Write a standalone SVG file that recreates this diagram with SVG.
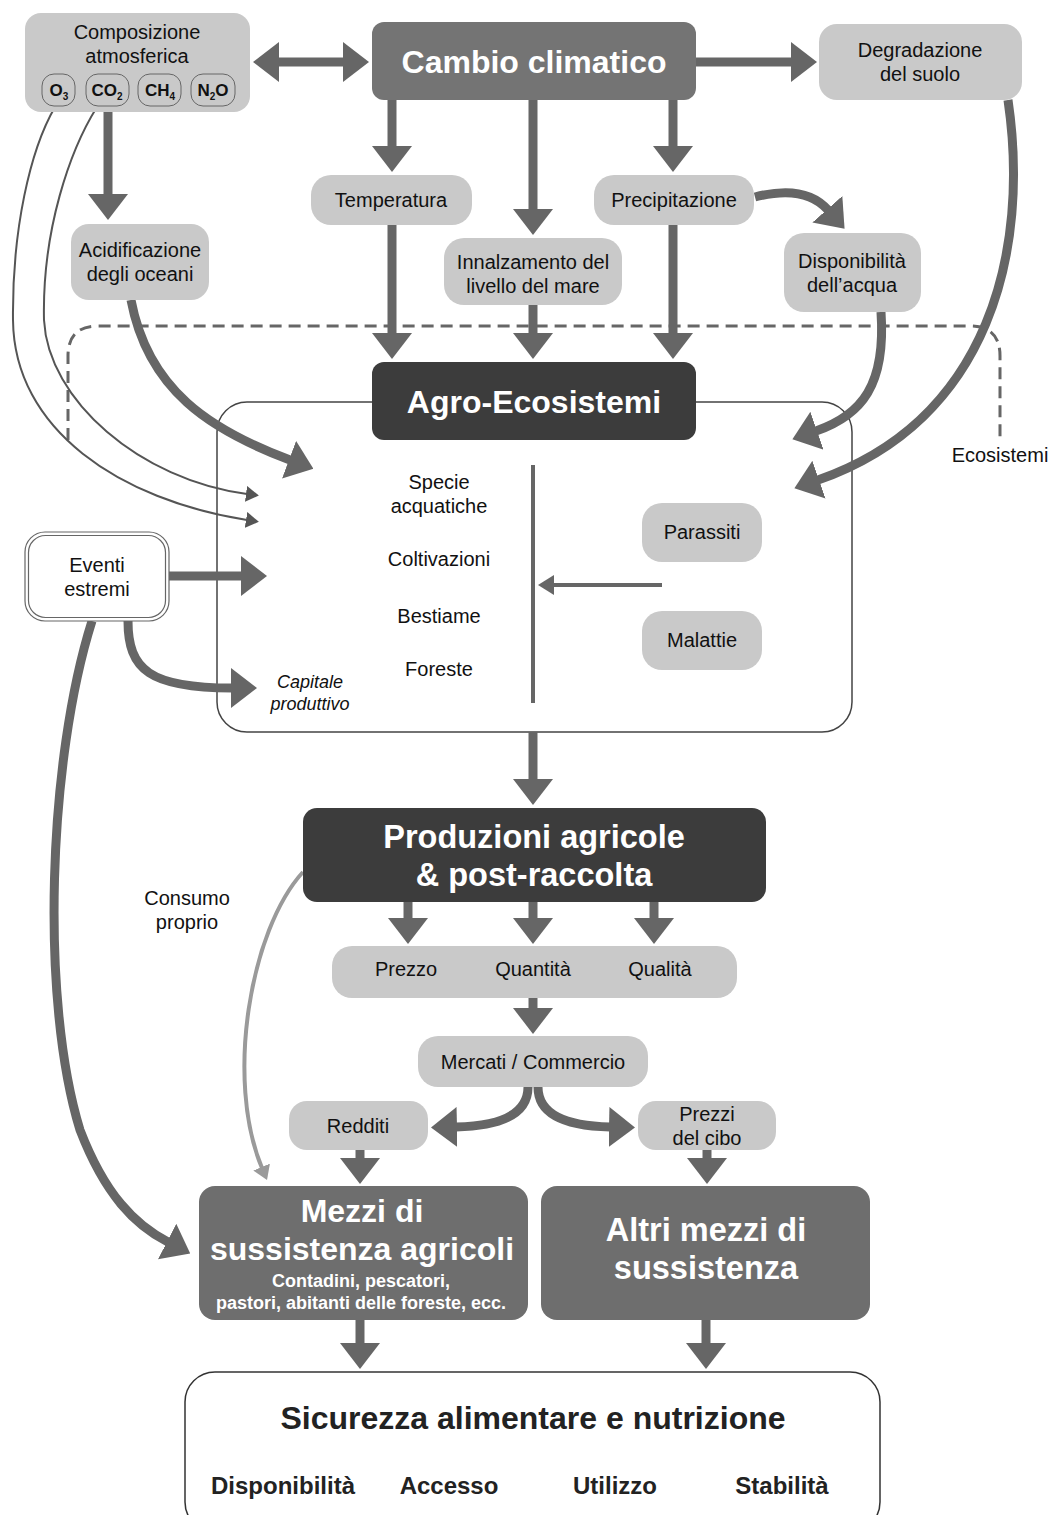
<svg xmlns="http://www.w3.org/2000/svg" width="1051" height="1515" viewBox="0 0 1051 1515">
<style>
text{font-family:"Liberation Sans",Arial,sans-serif;fill:#111;text-anchor:middle}
.lbl{font-size:20px}
.wt{fill:#fff;font-weight:bold}
.big{font-size:32px}
.light{fill:#c9c9c9}
.conn{fill:none;stroke:#666;stroke-width:9}
.thin{fill:none;stroke:#555;stroke-width:2}
.chem{font-size:17px;font-weight:bold}
.sub{font-size:10px}
.bot{font-weight:bold;fill:#222}
</style>
<defs>
<marker id="ah" markerUnits="userSpaceOnUse" markerWidth="26" markerHeight="40" refX="1" refY="20" orient="auto"><path d="M0,0 L26,20 L0,40 z" fill="#666"/></marker>
<marker id="ah2" markerUnits="userSpaceOnUse" markerWidth="26" markerHeight="40" refX="1" refY="20" orient="auto-start-reverse"><path d="M0,0 L26,20 L0,40 z" fill="#666"/></marker>
<marker id="at" markerUnits="userSpaceOnUse" markerWidth="13" markerHeight="16" refX="1" refY="8" orient="auto"><path d="M0,0 L13,8 L0,16 z" fill="#555"/></marker>
<marker id="am" markerUnits="userSpaceOnUse" markerWidth="16" markerHeight="20" refX="1" refY="10" orient="auto"><path d="M0,0 L16,10 L0,20 z" fill="#666"/></marker>
<marker id="al" markerUnits="userSpaceOnUse" markerWidth="14" markerHeight="18" refX="1" refY="9" orient="auto"><path d="M0,0 L14,9 L0,18 z" fill="#9a9a9a"/></marker>
</defs>
<rect width="1051" height="1515" fill="#fff"/>

<!-- Ecosistemi dashed boundary -->
<g id="ecosistemi">
<path d="M68,440 L68,356 Q68,326 98,326 L970,326 Q1000,326 1000,356 L1000,440" fill="none" stroke="#666" stroke-width="3" stroke-dasharray="12 7"/>
<text class="lbl" x="1000" y="462">Ecosistemi</text>
</g>

<!-- container -->
<g id="agro-container">
<rect x="217" y="402" width="635" height="330" rx="30" fill="#fff" stroke="#444" stroke-width="1.5"/>
</g>

<g id="connectors">
<path class="conn" d="M278,62 L344,62" marker-start="url(#ah2)" marker-end="url(#ah2)"/>
<path class="conn" d="M696,62 L792,62" marker-end="url(#ah)"/>
<path class="conn" d="M392,100 L392,147" marker-end="url(#ah)"/>
<path class="conn" d="M533,100 L533,210" marker-end="url(#ah)"/>
<path class="conn" d="M673,100 L673,147" marker-end="url(#ah)"/>
<path class="conn" d="M108,105 L108,195" marker-end="url(#ah)"/>
<path class="conn" d="M392,225 L392,334" marker-end="url(#ah)"/>
<path class="conn" d="M533,305 L533,334" marker-end="url(#ah)"/>
<path class="conn" d="M673,225 L673,334" marker-end="url(#ah)"/>
<path class="conn" d="M755,197 Q805,184 828,210" marker-end="url(#ah)"/>
<path class="conn" d="M881,312 C886,385 862,415 816,431" marker-end="url(#ah)"/>
<path class="conn" d="M1008,100 C1030,250 990,420 818,480" marker-end="url(#ah)"/>
<path class="conn" d="M131,300 C148,390 210,430 290,460" marker-end="url(#ah)"/>
<path class="thin" d="M55,107 C30,150 12,230 13,320 C14,430 120,500 247,520" marker-end="url(#at)"/>
<path class="thin" d="M97,107 C70,150 42,230 44,320 C48,400 140,480 247,494" marker-end="url(#at)"/>
<path class="conn" d="M169,576 L242,576" marker-end="url(#ah)"/>
<path class="conn" d="M128,621 C128,670 150,688 232,688" marker-end="url(#ah)"/>
<path class="conn" d="M92,621 C48,760 40,1000 80,1130 C105,1195 135,1225 168,1242" marker-end="url(#ah)"/>
<path d="M662,585 L553,585" fill="none" stroke="#666" stroke-width="4" marker-end="url(#am)"/>
<path d="M533,465 L533,703" fill="none" stroke="#666" stroke-width="4"/>
<path class="conn" d="M533,732 L533,780" marker-end="url(#ah)"/>
<path class="conn" d="M408,902 L408,919" marker-end="url(#ah)"/>
<path class="conn" d="M533,902 L533,919" marker-end="url(#ah)"/>
<path class="conn" d="M654,902 L654,919" marker-end="url(#ah)"/>
<path class="conn" d="M533,998 L533,1009" marker-end="url(#ah)"/>
<path class="conn" d="M528,1087 C528,1115 500,1126 456,1127" marker-end="url(#ah)"/>
<path class="conn" d="M538,1087 C538,1115 566,1126 610,1127" marker-end="url(#ah)"/>
<path d="M303,872 C250,930 225,1080 262,1168" fill="none" stroke="#9a9a9a" stroke-width="4" marker-end="url(#al)"/>
<path class="conn" d="M360,1150 L360,1159" marker-end="url(#ah)"/>
<path class="conn" d="M707,1150 L707,1159" marker-end="url(#ah)"/>
<path class="conn" d="M360,1320 L360,1344" marker-end="url(#ah)"/>
<path class="conn" d="M706,1320 L706,1344" marker-end="url(#ah)"/>
</g>

<g id="composizione">
<rect class="light" x="25" y="13" width="225" height="99" rx="16"/>
<text class="lbl" x="137" y="39">Composizione</text>
<text class="lbl" x="137" y="63">atmosferica</text>
<rect x="42" y="74" width="33" height="32" rx="12" fill="none" stroke="#666" stroke-width="1"/>
<rect x="86" y="74" width="43" height="32" rx="12" fill="none" stroke="#666" stroke-width="1"/>
<rect x="138" y="74" width="43" height="32" rx="12" fill="none" stroke="#666" stroke-width="1"/>
<rect x="191" y="74" width="44" height="32" rx="12" fill="none" stroke="#666" stroke-width="1"/>
<text class="chem" x="59" y="96">O<tspan class="sub" dy="4">3</tspan></text>
<text class="chem" x="107" y="96">CO<tspan class="sub" dy="4">2</tspan></text>
<text class="chem" x="160" y="96">CH<tspan class="sub" dy="4">4</tspan></text>
<text class="chem" x="213" y="96">N<tspan class="sub" dy="4">2</tspan><tspan dy="-4">O</tspan></text>
</g>

<g id="cambio">
<rect x="372" y="22" width="324" height="78" rx="12" fill="#747474"/>
<text class="wt big" x="534" y="73">Cambio climatico</text>
</g>

<g id="degradazione">
<rect class="light" x="819" y="24" width="203" height="76" rx="18"/>
<text class="lbl" x="920" y="57">Degradazione</text>
<text class="lbl" x="920" y="81">del suolo</text>
</g>

<g id="temperatura">
<rect class="light" x="311" y="175" width="161" height="50" rx="20"/>
<text class="lbl" x="391" y="207">Temperatura</text>
</g>

<g id="innalzamento">
<rect class="light" x="444" y="238" width="178" height="67" rx="20"/>
<text class="lbl" x="533" y="269">Innalzamento del</text>
<text class="lbl" x="533" y="293">livello del mare</text>
</g>

<g id="precipitazione">
<rect class="light" x="594" y="175" width="160" height="50" rx="20"/>
<text class="lbl" x="674" y="207">Precipitazione</text>
</g>

<g id="disponibilita-acqua">
<rect class="light" x="784" y="233" width="137" height="79" rx="20"/>
<text class="lbl" x="852" y="268">Disponibilità</text>
<text class="lbl" x="852" y="292">dell’acqua</text>
</g>

<g id="acidificazione">
<rect class="light" x="71" y="224" width="138" height="76" rx="18"/>
<text class="lbl" x="140" y="257">Acidificazione</text>
<text class="lbl" x="140" y="281">degli oceani</text>
</g>

<g id="agro-ecosistemi">
<rect x="372" y="362" width="324" height="78" rx="12" fill="#3c3c3c"/>
<text class="wt big" x="534" y="413">Agro-Ecosistemi</text>
</g>

<g id="componenti">
<text class="lbl" x="439" y="489">Specie</text>
<text class="lbl" x="439" y="513">acquatiche</text>
<text class="lbl" x="439" y="566">Coltivazioni</text>
<text class="lbl" x="439" y="623">Bestiame</text>
<text class="lbl" x="439" y="676">Foreste</text>
</g>

<g id="parassiti">
<rect class="light" x="642" y="503" width="120" height="59" rx="20"/>
<text class="lbl" x="702" y="539">Parassiti</text>
</g>

<g id="malattie">
<rect class="light" x="642" y="611" width="120" height="59" rx="20"/>
<text class="lbl" x="702" y="647">Malattie</text>
</g>

<g id="eventi">
<rect x="25" y="532" width="144" height="89" rx="20" fill="#fff" stroke="#666" stroke-width="1.2"/>
<rect x="28.5" y="535.5" width="137" height="82" rx="17" fill="none" stroke="#666" stroke-width="1.2"/>
<text class="lbl" x="97" y="572">Eventi</text>
<text class="lbl" x="97" y="596">estremi</text>
</g>

<g id="capitale">
<text x="310" y="688" font-size="18" font-style="italic">Capitale</text>
<text x="310" y="710" font-size="18" font-style="italic">produttivo</text>
</g>

<g id="produzioni">
<rect x="303" y="808" width="463" height="94" rx="14" fill="#3c3c3c"/>
<text class="wt" font-size="32.5" x="534" y="848">Produzioni agricole</text>
<text class="wt" font-size="32.5" x="534" y="886">&amp; post-raccolta</text>
</g>

<g id="consumo">
<text class="lbl" x="187" y="905">Consumo</text>
<text class="lbl" x="187" y="929">proprio</text>
</g>

<g id="prezzo-quantita-qualita">
<rect class="light" x="332" y="946" width="405" height="52" rx="20"/>
<text class="lbl" x="406" y="976">Prezzo</text>
<text class="lbl" x="533" y="976">Quantità</text>
<text class="lbl" x="660" y="976">Qualità</text>
</g>

<g id="mercati">
<rect class="light" x="418" y="1036" width="230" height="51" rx="20"/>
<text class="lbl" x="533" y="1069">Mercati / Commercio</text>
</g>

<g id="redditi">
<rect class="light" x="289" y="1101" width="139" height="49" rx="18"/>
<text class="lbl" x="358" y="1133">Redditi</text>
</g>

<g id="prezzi-cibo">
<rect class="light" x="638" y="1101" width="138" height="49" rx="18"/>
<text class="lbl" x="707" y="1121">Prezzi</text>
<text class="lbl" x="707" y="1145">del cibo</text>
</g>

<g id="mezzi-agricoli">
<rect x="199" y="1186" width="329" height="134" rx="16" fill="#6e6e6e"/>
<text class="wt" font-size="32" x="362" y="1222">Mezzi di</text>
<text class="wt" font-size="32" x="362" y="1260">sussistenza agricoli</text>
<text class="wt" font-size="18" x="361" y="1287">Contadini, pescatori,</text>
<text class="wt" font-size="18" x="361" y="1309">pastori, abitanti delle foreste, ecc.</text>
</g>

<g id="altri-mezzi">
<rect x="541" y="1186" width="329" height="134" rx="16" fill="#6e6e6e"/>
<text class="wt" font-size="32.5" x="706" y="1241">Altri mezzi di</text>
<text class="wt" font-size="32.5" x="706" y="1279">sussistenza</text>
</g>

<g id="sicurezza">
<rect x="185" y="1372" width="695" height="160" rx="30" fill="#fff" stroke="#333" stroke-width="1.5"/>
<text class="bot" font-size="32" x="533" y="1429">Sicurezza alimentare e nutrizione</text>
<text class="bot" font-size="24" x="283" y="1494">Disponibilità</text>
<text class="bot" font-size="24" x="449" y="1494">Accesso</text>
<text class="bot" font-size="24" x="615" y="1494">Utilizzo</text>
<text class="bot" font-size="24" x="782" y="1494">Stabilità</text>
</g>
</svg>
